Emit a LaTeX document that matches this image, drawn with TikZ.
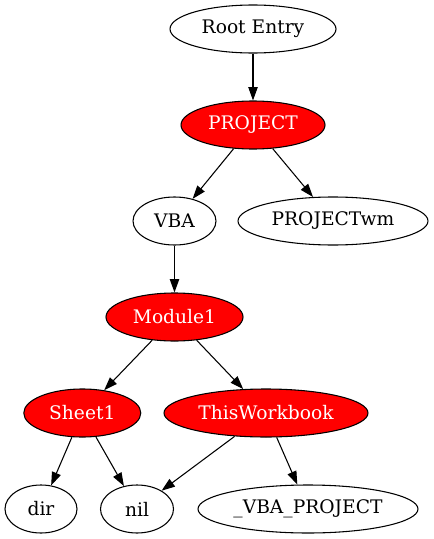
\documentclass[tikz,border=0pt]{standalone}
\usepackage{fontspec}
\setmainfont{DejaVu Serif}
\usetikzlibrary{arrows.meta,shapes.geometric}
\begin{document}
\begin{tikzpicture}[x=0.75pt,y=-0.75pt,
  gnode/.style={ellipse, draw=black, line width=0.8pt, inner sep=0pt,
    minimum height=36pt, font=\fontsize{14}{16}\selectfont},
  rnode/.style={gnode, fill=red, text=white},
  gedge/.style={-{Triangle[length=10pt,width=7pt]}, line width=0.8pt, black}]
\useasboundingbox (0,0) rectangle (433,539);
\node[gnode, minimum width=124.5pt] (root) at (253,29) {Root Entry};
\node[rnode, minimum width=108pt] (project) at (253,125) {PROJECT};
\node[gnode, minimum width=62.25pt] (vba) at (174.5,221) {VBA};
\node[gnode, minimum width=142.5pt] (projectwm) at (333,221) {PROJECTwm};
\node[rnode, minimum width=102.75pt] (module1) at (174.5,317) {Module1};
\node[rnode, minimum width=87.75pt] (sheet1) at (82.3,413) {Sheet1};
\node[rnode, minimum width=153pt] (thiswb) at (266,413) {ThisWorkbook};
\node[gnode, minimum width=54pt] (dir) at (41,509) {dir};
\node[gnode, minimum width=54.75pt] (nil) at (137,509) {nil};
\node[gnode, minimum width=165pt] (vbaproject) at (308,509) {\_VBA\_PROJECT};
\draw[gedge] (root) -- (project);
\draw[gedge] (project) -- (vba);
\draw[gedge] (project) -- (projectwm);
\draw[gedge] (vba) -- (module1);
\draw[gedge] (module1) -- (sheet1);
\draw[gedge] (module1) -- (thiswb);
\draw[gedge] (sheet1) -- (dir);
\draw[gedge] (sheet1) -- (nil);
\draw[gedge] (thiswb) -- (nil);
\draw[gedge] (thiswb) -- (vbaproject);
\end{tikzpicture}
\end{document}
